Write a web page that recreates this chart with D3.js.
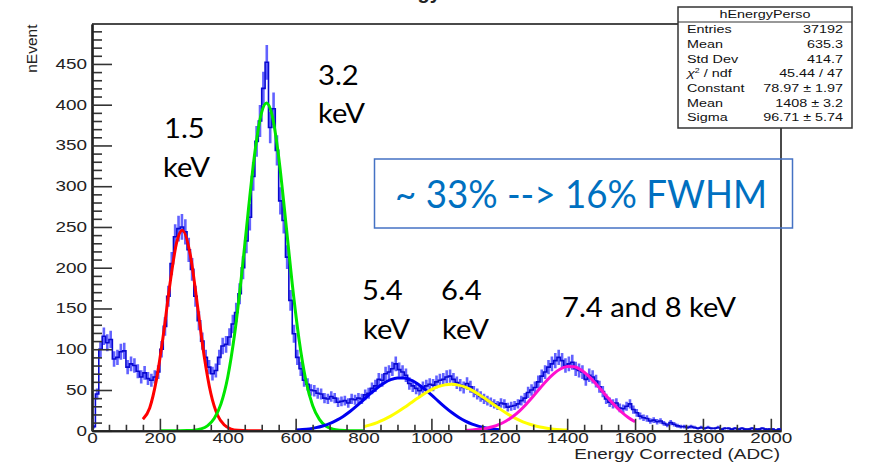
<!DOCTYPE html>
<html>
<head>
<meta charset="utf-8">
<script src="https://cdn.jsdelivr.net/npm/d3@7"></script>
<style>
  body { margin: 0; background: #ffffff; }
</style>
</head>
<body>
<script>
// ---- data ----
// hEnergyPerso, counts per 10 ADC bin from 0 to 2030
var binWidth = 10;
var counts = [
  5, 45, 100, 116, 108, 112, 88, 90, 97, 98,          // 0-100
  78, 82, 80, 73, 66, 71, 64, 62, 66, 72,             // 100-200
  100, 128, 165, 205, 238, 248, 250, 244, 222, 198,   // 200-300
  165, 135, 110, 90, 78, 70, 74, 90, 104, 106,        // 300-400
  115, 131, 145, 168, 200, 233, 262, 312, 355, 380,   // 400-500
  420, 452, 372, 395, 344, 282, 258, 213, 160, 119,   // 500-600
  90, 76, 62, 57, 50, 49, 46, 45, 40, 39,             // 600-700
  42, 40, 35, 36, 37, 34, 39, 38, 40, 39,             // 700-800
  44, 46, 52, 55, 63, 62, 70, 72, 76, 82,             // 800-900
  75, 72, 68, 58, 55, 52, 49, 53, 55, 57,             // 900-1000
  56, 60, 62, 63, 66, 67, 63, 59, 56, 53,             // 1000-1100
  58, 54, 48, 45, 42, 39, 37, 35, 33, 31,             // 1100-1200
  34, 33, 29, 30, 31, 33, 37, 40, 47, 50,             // 1200-1300
  53, 60, 67, 72, 78, 82, 86, 90, 86, 80,             // 1300-1400
  82, 84, 76, 74, 72, 63, 68, 66, 61, 54,             // 1400-1500
  48, 39, 35, 33, 34, 28, 27, 30, 33, 26,             // 1500-1600
  22, 18, 16, 15, 12, 13, 11, 12, 9, 7,               // 1600-1700
  10, 8, 6, 5, 5, 4, 5, 4, 3, 4,                      // 1700-1800
  3, 4, 3, 3, 4, 2, 3, 3, 2, 3,                       // 1800-1900
  2, 3, 2, 2, 3, 2, 2, 3, 2, 2,                       // 1900-2000
  2, 1, 2                                             // 2000-2030
];

// fitted gaussians
var redX = [150, 170, 190, 210, 230, 250, 266, 290, 310, 330, 350, 370, 390, 410, 430, 460, 500];
var redY = [14, 28, 63, 117, 181, 232, 246, 215, 156, 93, 46, 19, 7, 2, 0.5, 0, 0];

var greenX = [200, 240, 280, 300, 320, 340, 360, 380, 400, 420, 440, 460, 480, 500, 514,
              530, 550, 570, 590, 610, 630, 650, 670, 690, 710, 730, 760, 800];
var greenY = [0, 0, 0.3, 0.7, 2.2, 6, 15, 33, 66, 118, 188, 268, 342, 391, 402,
              388, 336, 260, 180, 112, 62, 31, 14, 5.4, 1.9, 0.6, 0, 0];

var blueX = d3.range(600, 1201, 20);
var blueY = [0.8, 1.4, 2.3, 3.8, 5.9, 8.8, 12.7, 17.6, 23.6, 30.5, 37.9, 45.4, 52.5, 58.4, 62.7, 64.8,
             64.6, 62, 57.4, 51, 44, 36.4, 29, 22.3, 16.5, 11.8, 8.1, 5.4, 3.4, 2.1, 1.3];

var yellowX = d3.range(800, 1401, 20);
var yellowY = [5, 7.2, 10, 13.6, 17.9, 22.9, 28.4, 34.3, 40.1, 45.6, 50.4, 54.1, 56.3, 57, 56, 53.4,
               49.5, 44.6, 39, 33.1, 27.3, 21.8, 17, 12.8, 9.4, 6.7, 4.6, 3.1, 2, 1.3, 0.8];

var magentaX = d3.range(1100, 1601, 20);
var magentaY = [0.5, 0.9, 1.7, 2.9, 4.9, 7.8, 11.9, 17.5, 24.5, 32.9, 42.3, 52.2, 61.7, 69.8, 75.8, 78.7,
                78.4, 74.8, 68.3, 59.9, 50.2, 40.4, 31.1, 23, 16.2, 11];

var xMajorTicks = d3.range(0, 2001, 200);
var xMinorTicks = d3.range(0, 2001, 50);
var yMajorTicks = d3.range(0, 451, 50);
var yMinorTicks = d3.range(0, 491, 10);

var statsLabels = ["Entries", "Mean", "Std Dev", "chi2", "Constant", "Mean", "Sigma"];
var statsValues = ["37192", "635.3", "414.7", "45.44 / 47", "78.97 \u00b1 1.97", "1408 \u00b1 3.2", "96.71 \u00b1 5.74"];

// ---- layout ----
var width = 871;
var height = 468;
var padL = 92, padR = 781, padT = 24, padB = 430.75;
var rootFont = "'Liberation Sans', Arial, Helvetica, sans-serif";
var slideFont = "Lato, 'Open Sans', sans-serif";
var stretch = 1.35;   // the root canvas is stretched sideways on the slide

var svg = d3.select("body").append("svg")
            .attr("width", width)
            .attr("height", height)
            .style("display", "block")
            .style("background", "#ffffff");

var x = d3.scaleLinear().domain([0, 2030]).range([padL, padR]);
var y = d3.scaleLinear().domain([0, 499]).range([padB, padT]);

svg.append("clipPath").attr("id", "frameClip")
  .append("rect")
    .attr("x", padL).attr("y", padT)
    .attr("width", padR - padL).attr("height", padB - padT);

// title, mostly cut off at the top of the slide
svg.append("text")
  .attr("x", 373).attr("y", -1)
  .style("font-family", rootFont)
  .style("font-size", "20px")
  .style("font-weight", "bold")
  .attr("fill", "#222")
  .text("Energy Corrected");

// frame (top and right)
svg.append("path")
  .attr("d", "M" + padL + "," + padT + "H" + padR + "V" + padB)
  .attr("fill", "none")
  .attr("stroke", "#4a4a4a")
  .attr("stroke-width", 2);

// ---- histogram ----
var plot = svg.append("g").attr("clip-path", "url(#frameClip)");

var bins = counts.map(function(c, i) { return { x0: i * binWidth, n: c }; });

plot.selectAll("line.err").data(bins).enter().append("line")
  .attr("class", "err")
  .attr("x1", function(d) { return x(d.x0 + binWidth / 2); })
  .attr("x2", function(d) { return x(d.x0 + binWidth / 2); })
  .attr("y1", function(d) { return y(d.n - Math.sqrt(d.n)); })
  .attr("y2", function(d) { return y(d.n + Math.sqrt(d.n)); })
  .attr("stroke", "#6262ff")
  .attr("stroke-width", 2.6);

var stepPts = bins.map(function(d) { return [d.x0, d.n]; });
stepPts.unshift([0, 0]);
stepPts.push([counts.length * binWidth, counts[counts.length - 1]]);

var stepLine = d3.line()
  .x(function(d) { return x(d[0]); })
  .y(function(d) { return y(d[1]); })
  .curve(d3.curveStepAfter);

plot.append("path")
  .datum(stepPts)
  .attr("d", stepLine)
  .attr("fill", "none")
  .attr("stroke", "#0808d0")
  .attr("stroke-width", 1.6);

// ---- fits ----
var fitLine = d3.line()
  .x(function(d) { return x(d[0]); })
  .y(function(d) { return y(d[1]); })
  .curve(d3.curveMonotoneX);

var fits = [
  { xs: redX, ys: redY, color: "#ff0000" },
  { xs: greenX, ys: greenY, color: "#00e600" },
  { xs: blueX, ys: blueY, color: "#0000f0" },
  { xs: yellowX, ys: yellowY, color: "#ffff00" },
  { xs: magentaX, ys: magentaY, color: "#ff10d0" }
];

plot.selectAll("path.fit").data(fits).enter().append("path")
  .attr("class", "fit")
  .attr("d", function(f) { return fitLine(f.xs.map(function(v, i) { return [v, f.ys[i]]; })); })
  .attr("fill", "none")
  .attr("stroke", function(f) { return f.color; })
  .attr("stroke-width", 3);

// ---- axes ----
var yMinorAxis = d3.axisLeft(y)
  .tickValues(yMinorTicks.filter(function(v) { return v % 50 !== 0; }))
  .tickSizeInner(-10).tickSizeOuter(0).tickFormat("");
var yAxis = d3.axisLeft(y)
  .tickValues(yMajorTicks)
  .tickFormat(d3.format("d"))
  .tickSizeInner(-20).tickSizeOuter(0).tickPadding(5);

var xMinorAxis = d3.axisBottom(x)
  .tickValues(xMinorTicks.filter(function(v) { return v % 200 !== 0; }))
  .tickSizeInner(-6).tickSizeOuter(0).tickFormat("");
var xAxis = d3.axisBottom(x)
  .tickValues(xMajorTicks)
  .tickFormat(d3.format("d"))
  .tickSizeInner(-12).tickSizeOuter(0).tickPadding(2.5);

svg.append("g").attr("transform", "translate(" + padL + ",0)").call(yMinorAxis);
var gy = svg.append("g").attr("transform", "translate(" + padL + ",0)").call(yAxis);
svg.append("g").attr("transform", "translate(0," + padB + ")").call(xMinorAxis);
var gx = svg.append("g").attr("transform", "translate(0," + padB + ")").call(xAxis);

svg.selectAll(".tick line").attr("stroke", "#333").attr("stroke-width", 1.6);
svg.selectAll(".domain").attr("stroke", "#222").attr("stroke-width", 2.2);
svg.selectAll(".tick text")
  .style("font-family", rootFont)
  .style("font-size", "14px")
  .attr("fill", "#222");

gy.selectAll(".tick text")
  .attr("x", -5 / stretch)
  .attr("transform", "scale(" + stretch + ",1)");
gx.selectAll(".tick text")
  .attr("transform", "scale(" + stretch + ",1)");

// axis titles
svg.append("text")
  .attr("transform", "translate(37," + (padT + 0.5) + ") rotate(-90)")
  .attr("text-anchor", "end")
  .style("font-family", rootFont)
  .style("font-size", "15.5px")
  .attr("fill", "#222")
  .text("nEvent");

svg.append("text")
  .attr("transform", "translate(" + (padR - 1) + ",459) scale(" + stretch + ",1)")
  .attr("text-anchor", "end")
  .style("font-family", rootFont)
  .style("font-size", "14px")
  .attr("fill", "#222")
  .text("Energy Corrected (ADC)");

// ---- slide annotations ----
function note(str, px, py) {
  svg.append("text")
    .attr("transform", "translate(" + px + "," + py + ") scale(1.1,1)")
    .style("font-family", slideFont)
    .style("font-size", "26.5px")
    .attr("fill", "#000")
    .text(str);
}
note("1.5", 164, 138);
note("keV", 163, 177);
note("3.2", 318, 85);
note("keV", 318, 123);
note("5.4", 362, 300);
note("keV", 363, 339);
note("6.4", 441, 300);
note("keV", 442, 339);
note("7.4 and 8 keV", 562, 317);

svg.append("rect")
  .attr("x", 374.5).attr("y", 159)
  .attr("width", 418).attr("height", 69)
  .attr("fill", "none")
  .attr("stroke", "#4472c4")
  .attr("stroke-width", 1.5);

svg.append("text")
  .attr("x", 395).attr("y", 208)
  .attr("textLength", 372)
  .attr("lengthAdjust", "spacingAndGlyphs")
  .style("font-family", slideFont)
  .style("font-size", "39px")
  .attr("fill", "#0070c0")
  .text("~ 33% --> 16% FWHM");

// ---- stats box ----
var sb = svg.append("g");
sb.append("rect")
  .attr("x", 678).attr("y", 7)
  .attr("width", 174).attr("height", 121)
  .attr("fill", "#ffffff")
  .attr("stroke", "#333")
  .attr("stroke-width", 1.5);
sb.append("line")
  .attr("x1", 678).attr("x2", 852)
  .attr("y1", 22).attr("y2", 22)
  .attr("stroke", "#333")
  .attr("stroke-width", 1.2);

function statText(str, px, py, anchor) {
  return sb.append("text")
    .attr("transform", "translate(" + px + "," + py + ") scale(1.25,1)")
    .attr("text-anchor", anchor)
    .style("font-family", rootFont)
    .style("font-size", "11.5px")
    .attr("fill", "#111")
    .text(str);
}
statText("hEnergyPerso", 765, 18, "middle");

var rowY = [33, 48, 62.5, 77, 92, 106.5, 121];
statsLabels.forEach(function(lab, i) {
  if (lab === "chi2") {
    var t = statText("", 687, rowY[i], "start");
    t.append("tspan").style("font-style", "italic").text("\u03c7");
    t.append("tspan").attr("dy", -4).style("font-size", "7px").text("2");
    t.append("tspan").attr("dy", 4).text(" / ndf");
  } else {
    statText(lab, 687, rowY[i], "start");
  }
  statText(statsValues[i], 843, rowY[i], "end");
});
</script>
</body>
</html>
